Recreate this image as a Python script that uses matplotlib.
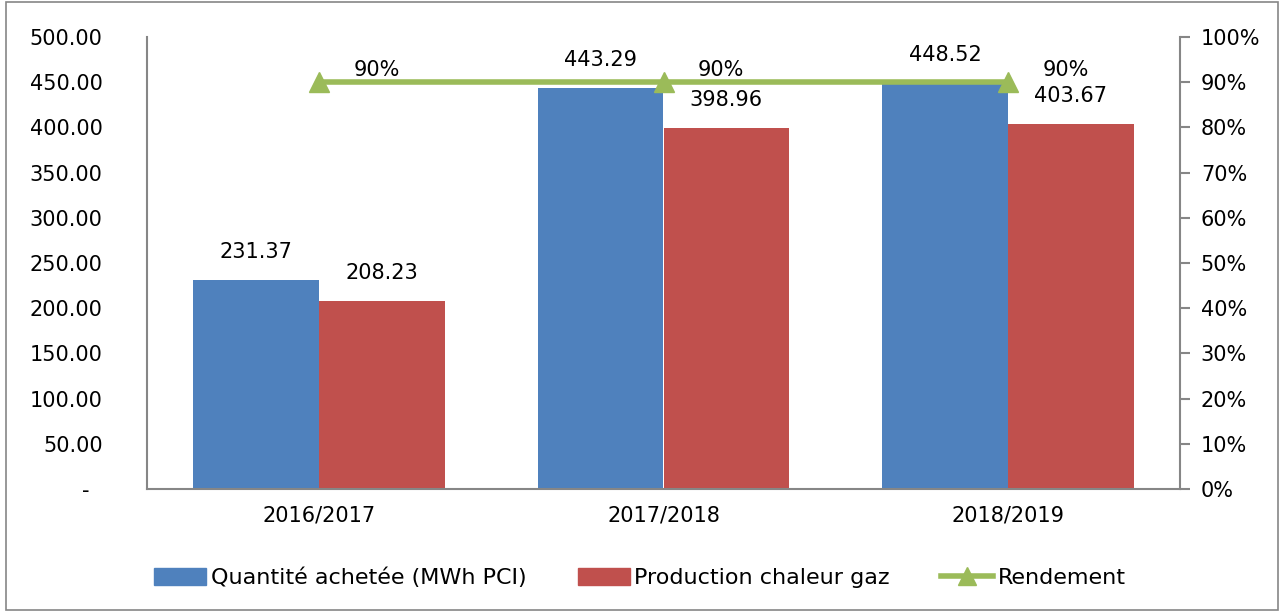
import numpy as np
import matplotlib.pyplot as plt
from matplotlib.patches import Rectangle
from matplotlib.lines import Line2D

# === Data ===
years = ['2016/2017', '2017/2018', '2018/2019']
achetee = [231.37, 443.29, 448.52]
production = [208.23, 398.96, 403.67]
rendement = [0.90, 0.90, 0.90]

blue = '#4F81BD'
red = '#C0504D'
green = '#9BBB59'
grey = '#868686'

plt.rcParams['font.family'] = ['DejaVu Sans']
fs = 15

fig = plt.figure(figsize=(12.8, 6.11), dpi=100)
ax = fig.add_axes([147 / 1280, 122 / 611, 1033 / 1280, 452 / 611])

x = np.arange(len(years))
w = 0.365
ax.bar(x - w / 2, achetee, w, color=blue, label='Quantité achetée (MWh PCI)')
ax.bar(x + w / 2, production, w, color=red, label='Production chaleur gaz')

for i in range(len(years)):
    ax.text(x[i] - w / 2, achetee[i] + 20, f'{achetee[i]:.2f}', ha='center', va='bottom', fontsize=fs)
    ax.text(x[i] + w / 2, production[i] + 20, f'{production[i]:.2f}', ha='center', va='bottom', fontsize=fs)

ax.set_xlim(-0.5, 2.5)
ax.set_ylim(0, 500)
ax.set_yticks(np.arange(0, 501, 50))
# Excel-style zero shown as a dash, a bit left of the number column
ax.set_yticklabels(['-  '] + [f'{v:.2f}' for v in np.arange(50, 501, 50)], fontsize=fs)
ax.set_xticks(x)
ax.set_xticklabels(years, fontsize=fs)
ax.tick_params(axis='y', length=0, pad=32)
ax.tick_params(axis='x', length=0, pad=12)
for s in ['top', 'right']:
    ax.spines[s].set_visible(False)
for s in ['left', 'bottom']:
    ax.spines[s].set_color(grey)
    ax.spines[s].set_linewidth(1.5)

ax2 = ax.twinx()
ax2.plot(x, rendement, color=green, lw=4, marker='^', ms=14, label='Rendement')
for i in range(len(years)):
    ax2.text(x[i] + 0.1, rendement[i] + 0.005, f'{rendement[i]:.0%}', ha='left', va='bottom', fontsize=fs)
ax2.set_ylim(0, 1)
ax2.set_yticks(np.arange(0, 1.01, 0.1))
ax2.set_yticklabels([f'{v:.0%}' for v in np.arange(0, 1.01, 0.1)], fontsize=fs)
ax2.tick_params(axis='y', length=7, width=1.5, color=grey, pad=8)
for s in ['top', 'left', 'bottom']:
    ax2.spines[s].set_visible(False)
ax2.spines['right'].set_color(grey)
ax2.spines['right'].set_linewidth(1.5)

handles = [Rectangle((0, 0), 1, 1, color=blue), Rectangle((0, 0), 1, 1, color=red),
           Line2D([], [], color=green, lw=4, marker='^', ms=13)]
labels = ['Quantité achetée (MWh PCI)', 'Production chaleur gaz', 'Rendement']
fig.legend(handles, labels, loc='center', bbox_to_anchor=(0.5, 33 / 611), ncol=3, frameon=False,
           fontsize=16, handlelength=2.35, handleheight=0.8, handletextpad=0.2, columnspacing=2.3)

fig.patches.append(Rectangle((6 / 1280, 0.002), 1 - 8 / 1280, 0.995, transform=fig.transFigure,
                             fill=False, edgecolor=grey, lw=1.2))

fig.savefig('out.png', dpi=100)
